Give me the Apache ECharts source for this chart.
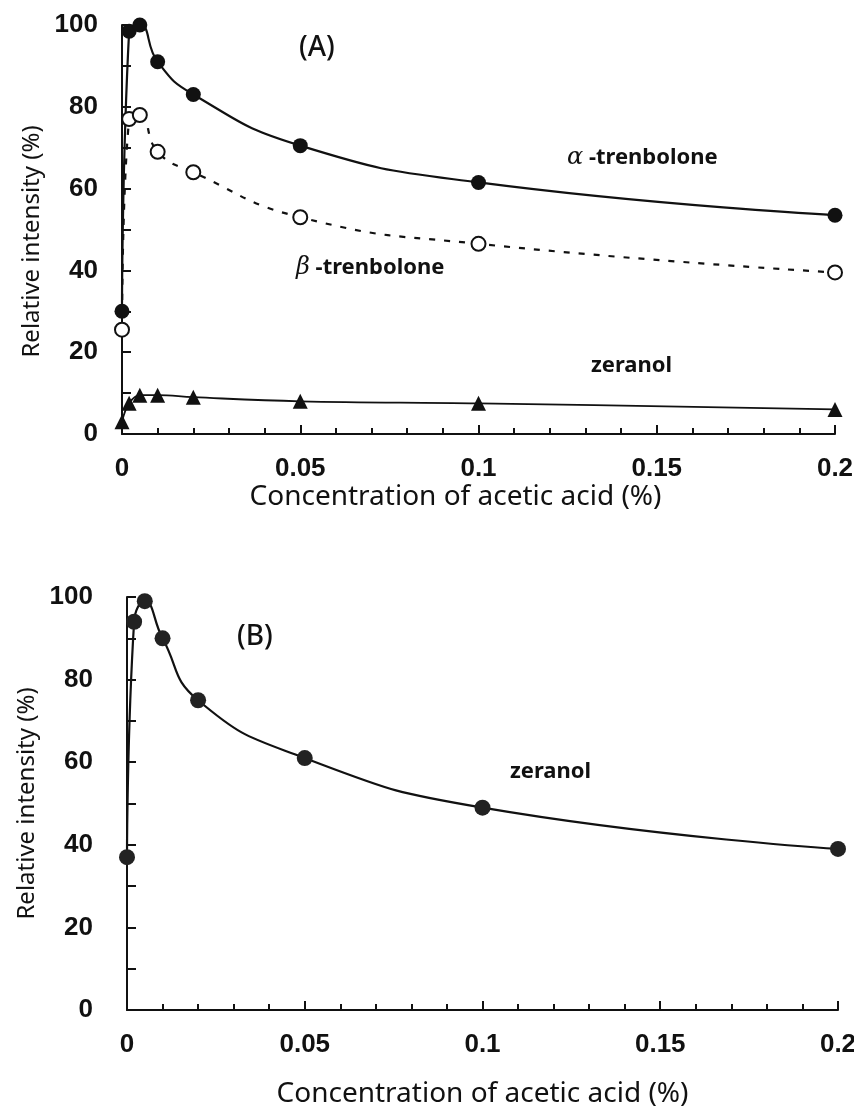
<!DOCTYPE html>
<html>
<head>
<meta charset="utf-8">
<script src="https://cdn.jsdelivr.net/npm/echarts@6/dist/echarts.min.js"></script>
<style>
  html, body { margin: 0; padding: 0; background: #fff; }
  #main { width: 854px; height: 1120px; }
</style>
</head>
<body>
<div id="main"></div>
<script>
// concentration of acetic acid (%)
const concA = [0, 0.002, 0.005, 0.01, 0.02, 0.05, 0.1, 0.2];
const alphaTren = [30, 98.5, 100, 91, 83, 70.5, 61.5, 53.5];
const betaTren = [25.5, 77, 78, 69, 64, 53, 46.5, 39.5];
const zeranolA = [3, 7.5, 9.5, 9.5, 9, 8, 7.5, 6];

const concB = [0, 0.002, 0.005, 0.01, 0.02, 0.05, 0.1, 0.2];
const zeranolB = [37, 94, 99, 90, 75, 61, 49, 39];

const yTicks = [0, 20, 40, 60, 80, 100];
const xTicks = [0, 0.05, 0.1, 0.15, 0.2];

const xName = "Concentration of acetic acid (%)";
const yName = "Relative intensity (%)";

const tickFont = "'Liberation Sans', Arial, sans-serif";
const nameFont = "'Noto Sans', 'DejaVu Sans', sans-serif";

const pairs = (xs, ys) => xs.map((x, i) => [x, ys[i]]);

function xAxis(gridIndex, nameGap, namePad) {
    return {
        gridIndex: gridIndex,
        type: "value",
        min: 0, max: 0.2, interval: 0.05,
        name: xName, nameLocation: "middle", nameGap: nameGap,
        nameTextStyle: { fontFamily: nameFont, fontSize: 28, color: "#111", padding: namePad },
        axisLine: { lineStyle: { color: "#111", width: 2 } },
        axisTick: { inside: true, length: 9, lineStyle: { color: "#111", width: 2 } },
        minorTick: { show: true, splitNumber: 5, length: 6, lineStyle: { color: "#111", width: 2 } },
        axisLabel: {
            margin: 22, fontFamily: tickFont, fontWeight: "bold", fontSize: 26, color: "#111",
            formatter: (v) => xTicks.includes(+v.toFixed(3)) ? String(+v.toFixed(3)) : ""
        },
        splitLine: { show: false }
    };
}

function yAxis(gridIndex, nameGap, labelMargin, namePad) {
    return {
        gridIndex: gridIndex,
        type: "value",
        min: 0, max: 100, interval: 20,
        name: yName, nameLocation: "middle", nameGap: nameGap, nameRotate: 90,
        nameTextStyle: { fontFamily: nameFont, fontSize: 24, color: "#111", padding: namePad },
        axisLine: { show: true, lineStyle: { color: "#111", width: 2 } },
        axisTick: { show: true, inside: true, length: 9, lineStyle: { color: "#111", width: 2 } },
        minorTick: { show: true, splitNumber: 2, length: 9, lineStyle: { color: "#111", width: 2 } },
        axisLabel: { margin: labelMargin, fontFamily: tickFont, fontWeight: "bold", fontSize: 26, color: "#111" },
        splitLine: { show: false }
    };
}

const chart = echarts.init(document.getElementById("main"), null, { renderer: "canvas" });

const note = (x, y, text, size, weight) => ({
    type: "text", x: x, y: y,
    style: {
        text: text, fontFamily: nameFont, fontWeight: weight || "bold", fontSize: size, fill: "#111",
        verticalAlign: "middle",
        rich: { g: { fontFamily: "'DejaVu Serif', serif", fontStyle: "italic", fontWeight: "normal", fontSize: size + 2, fill: "#111" } }
    }
});

chart.setOption({
    backgroundColor: "#fff",
    animation: false,
    grid: [
        { left: 122, top: 25, right: 19, height: 409, outerBoundsMode: "none" },
        { left: 127, top: 597, right: 16, height: 413, outerBoundsMode: "none" }
    ],
    xAxis: [xAxis(0, 40, [0, 46, 0, 0]), xAxis(1, 70, 0)],
    yAxis: [yAxis(0, 78, 24, [0, 24, 0, 0]), yAxis(1, 84, 34, 0)],
    series: [
        {
            name: "alpha-trenbolone", type: "line", xAxisIndex: 0, yAxisIndex: 0,
            data: pairs(concA, alphaTren), smooth: 0.5,
            symbol: "circle", symbolSize: 15,
            itemStyle: { color: "#111" },
            lineStyle: { color: "#111", width: 2.2 }
        },
        {
            name: "beta-trenbolone", type: "line", xAxisIndex: 0, yAxisIndex: 0,
            data: pairs(concA, betaTren), smooth: 0.5,
            symbol: "circle", symbolSize: 14,
            itemStyle: { color: "#fff", borderColor: "#111", borderWidth: 2 },
            lineStyle: { color: "#111", width: 2.2, type: [6, 9] }
        },
        {
            name: "zeranol", type: "line", xAxisIndex: 0, yAxisIndex: 0,
            data: pairs(concA, zeranolA), smooth: 0.4,
            symbol: "triangle", symbolSize: 15,
            itemStyle: { color: "#111" },
            lineStyle: { color: "#111", width: 1.8 }
        },
        {
            name: "zeranol B", type: "line", xAxisIndex: 1, yAxisIndex: 1,
            data: pairs(concB, zeranolB), smooth: 0.5,
            symbol: "circle", symbolSize: 16,
            itemStyle: { color: "#222" },
            lineStyle: { color: "#111", width: 2.2 }
        }
    ],
    graphic: [
        note(299, 48, "(A)", 28, 500),
        note(567, 158, "{g|α} -trenbolone", 22),
        note(296, 268, "{g|β} -trenbolone", 22),
        note(591, 366, "zeranol", 22),
        note(237, 637, "(B)", 28, 500),
        note(510, 772, "zeranol", 22)
    ]
});
</script>
</body>
</html>
